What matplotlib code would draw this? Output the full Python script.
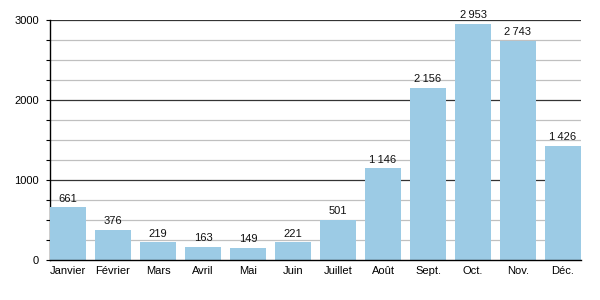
import matplotlib
matplotlib.use("Agg")
import matplotlib.pyplot as plt

plt.rcParams['font.family'] = ['Liberation Sans', 'DejaVu Sans']

months = ["Janvier", "Février", "Mars", "Avril", "Mai", "Juin",
          "Juillet", "Août", "Sept.", "Oct.", "Nov.", "Déc."]
values = [661, 376, 219, 163, 149, 221, 501, 1146, 2156, 2953, 2743, 1426]


def fmt(v):
    # French style: thin space as thousands separator
    return f"{v:,}".replace(",", "\u2009")


fig = plt.figure(figsize=(6, 3), dpi=100)
ax = fig.add_axes([50 / 600, 40 / 300, 531 / 600, 240 / 300])

x = range(len(months))
bars = ax.bar(x, values, width=0.8, color="#9ccbe5", zorder=3)

for xi, v in zip(x, values):
    ax.text(xi, v + 45, fmt(v), ha="center", va="bottom", fontsize=8, color="#111111", zorder=4)

ax.set_xlim(-0.4, len(months) - 0.6)
ax.set_ylim(0, 3000)

# gridlines: light every 250, dark every 1000
for yv in range(250, 3001, 250):
    if yv % 1000 == 0:
        ax.axhline(yv, color="#333333", lw=0.9, zorder=1)
    else:
        ax.axhline(yv, color="#c0c0c0", lw=0.9, zorder=1)

ax.set_yticks([0, 1000, 2000, 3000])
ax.set_yticks(range(0, 3001, 250), minor=True)
ax.tick_params(axis="y", which="both", direction="out", length=3, width=0.8,
               labelsize=8, pad=5)
ax.set_xticks(list(x))
ax.set_xticklabels(months)
ax.tick_params(axis="x", length=0, labelsize=8, pad=4)

for side in ["top", "right"]:
    ax.spines[side].set_visible(False)
ax.spines["left"].set_linewidth(1.0)
ax.spines["bottom"].set_linewidth(1.0)
ax.spines["bottom"].set_zorder(5)

fig.savefig("out.png", dpi=100)
